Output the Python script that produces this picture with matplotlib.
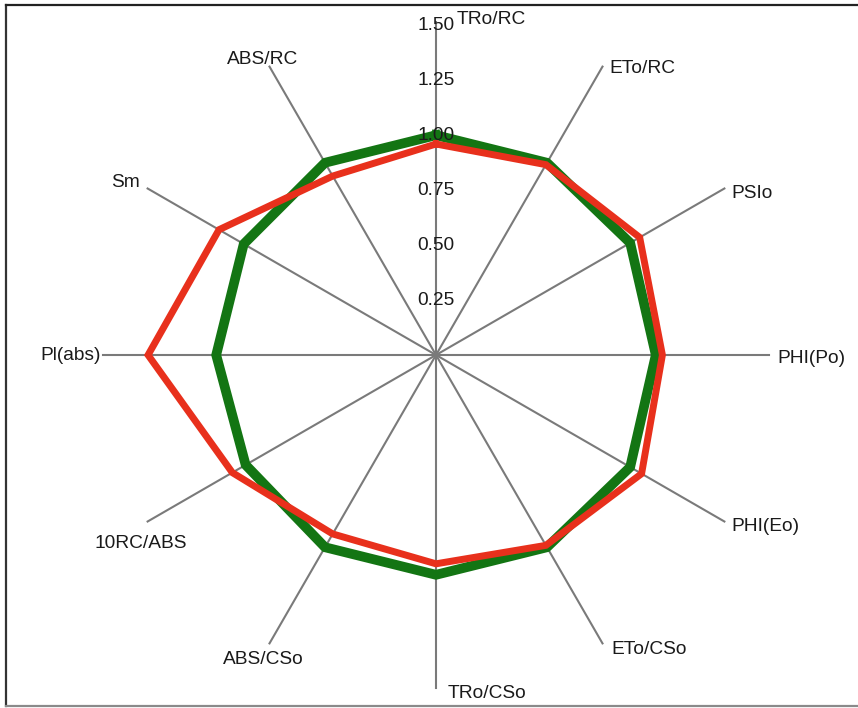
import numpy as np
import matplotlib
matplotlib.use("Agg")
import matplotlib.pyplot as plt
from matplotlib.lines import Line2D

plt.rcParams['font.family'] = ['Liberation Sans', 'DejaVu Sans']

# parameters, clockwise from the top
parametres = ["TRo/RC", "ETo/RC", "PSIo", "PHI(Po)", "PHI(Eo)", "ETo/CSo",
              "TRo/CSo", "ABS/CSo", "10RC/ABS", "Pl(abs)", "Sm", "ABS/RC"]
temoin = [1.00, 1.01, 1.02, 1.00, 1.02, 1.01, 1.00, 1.01, 1.00, 1.00, 1.01, 1.01]
traite = [0.96, 1.00, 1.07, 1.03, 1.08, 1.00, 0.95, 0.94, 1.07, 1.31, 1.14, 0.94]
graduations = [0.25, 0.50, 0.75, 1.00, 1.25, 1.50]

# label offsets from the end of each spoke (pixels) and alignment
decalages = [(21, 2, "left"), (7, -2, "left"), (7, -5, "left"), (8, -3, "left"),
             (7, -5, "left"), (9, -6, "left"), (12, -5, "left"), (-6, -16, "center"),
             (-7, -22, "center"), (-2, 0, "right"), (-8, 6, "right"), (-7, 7, "center")]

rmax = 1.515
n = len(parametres)
angles = np.arange(n) * 2 * np.pi / n

fig = plt.figure(figsize=(8.58, 7.08), dpi=100)
ax = fig.add_axes([103 / 858, 20 / 708, 666 / 858, 666 / 708], projection="polar")
ax.set_theta_zero_location("N")
ax.set_theta_direction(-1)
ax.set_ylim(0, rmax)
ax.axis("off")

# spokes
for a in angles:
    ax.plot([a, a], [0, rmax], color="#7a7a7a", lw=1.5, zorder=1, clip_on=False)

boucle = np.append(angles, angles[0])
ax.plot(boucle, temoin + temoin[:1], color="#137513", lw=7, zorder=2,
        solid_joinstyle="miter")
ax.plot(boucle, traite + traite[:1], color="#e8301c", lw=5, zorder=3,
        solid_joinstyle="miter")

for g in graduations:
    ax.text(0, g, f"{g:.2f}", ha="center", va="center", fontsize=13.8,
            color="#1a1a1a", zorder=5)

for a, nom, (dx, dy, ha) in zip(angles, parametres, decalages):
    ax.annotate(nom, xy=(a, rmax), xytext=(dx, dy), textcoords="offset pixels",
                ha=ha, va="center", fontsize=13.8, color="#1a1a1a", zorder=5,
                annotation_clip=False)

# frame around the figure
fig.add_artist(Line2D([6 / 858, 6 / 858], [2 / 708, 703 / 708], color="#333333", lw=1.6))
fig.add_artist(Line2D([6 / 858, 1.0], [703 / 708, 703 / 708], color="#222222", lw=1.6))
fig.add_artist(Line2D([6 / 858, 1.0], [2 / 708, 2 / 708], color="#8a8a8a", lw=1.6))

fig.savefig("out.png", dpi=100, facecolor="white")
